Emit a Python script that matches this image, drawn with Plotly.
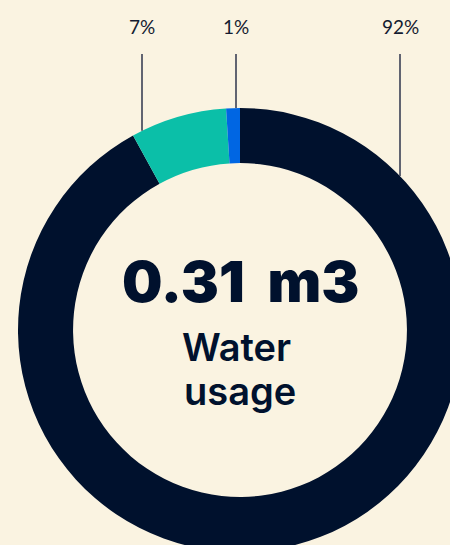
import math
import plotly.graph_objects as go

# ---- data ----
categories = ["Main", "Secondary", "Other"]
values = [92, 7, 1]
pct_labels = ["92%", "7%", "1%"]
colors = ["#00112D", "#0BBFA8", "#0066E3"]
center_value = ["0.31", "m3"]
center_lines = ["Water", "usage"]

# ---- layout constants (pixels) ----
W, H = 480, 560
BG = "#FAF3E1"
INK = "#00112D"
CX, CY, R = 240, 330, 222
HOLE = 0.752
label_x = [400, 142, 236]
LABEL_Y = 26
LINE_TOP = 54


def px(x):
    return x / W


def py(y):
    return 1 - y / H


fig = go.Figure(
    go.Pie(
        labels=categories,
        values=values,
        sort=False,
        direction="clockwise",
        rotation=0,
        hole=HOLE,
        marker=dict(colors=colors, line=dict(width=0)),
        textinfo="none",
        hoverinfo="label+percent",
        showlegend=False,
        domain=dict(x=[px(CX - R), px(CX + R)], y=[py(CY + R), py(CY - R)]),
    )
)

annotations = []
shapes = []
for lab, x in zip(pct_labels, label_x):
    annotations.append(dict(
        x=px(x), y=py(LABEL_Y), xref="paper", yref="paper", text=lab,
        showarrow=False, xanchor="center", yanchor="middle",
        font=dict(family="Lato", size=19, color="#141B30", weight=400),
    ))
    yend = CY - math.sqrt(max(R * R - (x - CX) ** 2, 0))
    shapes.append(dict(
        type="line", xref="paper", yref="paper",
        x0=px(x), x1=px(x), y0=py(LINE_TOP), y1=py(yend),
        line=dict(color="#2E354B", width=1.5),
    ))

annotations.append(dict(
    x=px(240), y=py(281), xref="paper", yref="paper",
    text=center_value[0] + "&nbsp;&nbsp;" + center_value[1],
    showarrow=False, xanchor="center", yanchor="middle",
    font=dict(family="Inter", size=57, color=INK, weight=900),
))
annotations.append(dict(
    x=px(236), y=py(347), xref="paper", yref="paper", text=center_lines[0],
    showarrow=False, xanchor="center", yanchor="middle",
    font=dict(family="Inter", size=38, color=INK, weight=600),
))
annotations.append(dict(
    x=px(240), y=py(391), xref="paper", yref="paper", text=center_lines[1],
    showarrow=False, xanchor="center", yanchor="middle",
    font=dict(family="Inter", size=38, color=INK, weight=600),
))

fig.update_layout(
    width=W, height=H,
    margin=dict(l=0, r=0, t=0, b=0),
    paper_bgcolor=BG, plot_bgcolor=BG,
    annotations=annotations, shapes=shapes,
    template="none",
)

fig.write_html(
    "out.html",
    config={"displayModeBar": False},
    post_script="document.body.style.margin='0';document.body.style.overflow='hidden';document.body.style.background='" + BG + "';",
)
